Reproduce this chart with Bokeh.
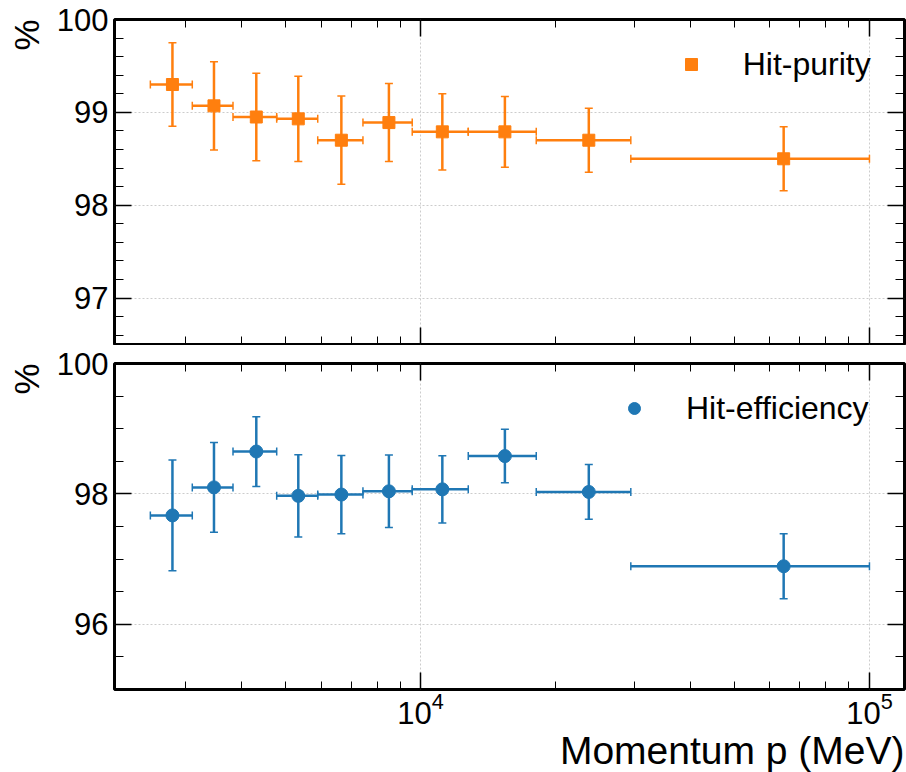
import numpy as np
from bokeh.plotting import figure
from bokeh.models import (ColumnDataSource, Range1d, FixedTicker, LogAxis, LinearAxis,
                          Whisker, TeeHead, Legend, LegendItem, Title, CustomJSTickFormatter)
from bokeh.layouts import column
from bokeh.embed import file_html
from bokeh.resources import INLINE

# ---------------- data ----------------
bin_lo = [2500, 3100, 3820, 4780, 5900, 7440, 9580, 12770, 18100, 29400]
bin_hi = [3100, 3820, 4780, 5900, 7440, 9580, 12770, 18100, 29400, 100000]
p_center = [2800, 3465, 4305, 5340, 6660, 8500, 11180, 15410, 23700, 64400]

purity = [99.30, 99.07, 98.95, 98.93, 98.70, 98.89, 98.79, 98.79, 98.70, 98.50]
purity_err = [0.45, 0.475, 0.47, 0.46, 0.475, 0.42, 0.41, 0.38, 0.345, 0.345]

efficiency = [97.67, 98.10, 98.65, 97.97, 97.99, 98.04, 98.07, 98.58, 98.03, 96.89]
efficiency_err = [0.85, 0.69, 0.535, 0.63, 0.60, 0.555, 0.515, 0.41, 0.42, 0.50]

x_major = [1e4, 1e5]
x_minor = [3000, 4000, 5000, 6000, 7000, 8000, 9000,
           20000, 30000, 40000, 50000, 60000, 70000, 80000, 90000]
top_y_major = [97, 98, 99, 100]
top_y_minor = [96.6, 96.8, 97.0, 97.2, 97.4, 97.6, 97.8, 98.0, 98.2, 98.4, 98.6,
               98.8, 99.0, 99.2, 99.4, 99.6, 99.8]
bot_y_major = [96, 98, 100]
bot_y_minor = [95.5, 96.0, 96.5, 97.0, 97.5, 98.0, 98.5, 99.0, 99.5]

FONT = "Liberation Sans"
ORANGE = "#ff7f0e"
BLUE = "#1f77b4"

x_range = Range1d(2080, 119700)


def style_axis(ax, show_labels, minor_len=9, standoff=6):
    ax.axis_line_color = None
    ax.major_tick_in = 17
    ax.major_tick_out = 0
    ax.minor_tick_in = minor_len
    ax.minor_tick_out = 0
    ax.major_tick_line_color = "black"
    ax.major_tick_line_width = 1.5
    ax.minor_tick_line_color = "black"
    ax.minor_tick_line_width = 1
    if show_labels:
        ax.major_label_text_font = FONT
        ax.major_label_text_font_size = "31px"
        ax.major_label_text_color = "black"
        ax.major_label_standoff = standoff
    else:
        ax.formatter = CustomJSTickFormatter(code="return ''")
        ax.major_label_text_font_size = "1px"
        ax.major_label_standoff = 0


def make_panel(y_lo, y_hi, y_major, y_minor, values, errs, color, marker, msize,
               name, height, frame_h, top_border, bottom_border, show_x_labels, leg_x):
    p = figure(width=906, height=height, x_axis_type="log", x_range=x_range,
               y_range=Range1d(y_lo, y_hi), output_backend="svg",
               toolbar_location=None, min_border_left=114, min_border_right=2,
               min_border_top=top_border, min_border_bottom=bottom_border)
    p.outline_line_color = "black"
    p.outline_line_width = 3
    p.background_fill_color = "white"
    p.border_fill_color = "white"

    xt = FixedTicker(ticks=x_major, minor_ticks=x_minor)
    yt = FixedTicker(ticks=y_major, minor_ticks=y_minor)

    p.xaxis[0].ticker = xt
    p.yaxis[0].ticker = yt
    p.xgrid[0].ticker = xt
    p.ygrid[0].ticker = yt
    for g in (p.xgrid[0], p.ygrid[0]):
        g.grid_line_color = "#cccccc"
        g.grid_line_dash = "2 2"
        g.grid_line_width = 1

    style_axis(p.xaxis[0], show_x_labels, minor_len=8, standoff=2)
    style_axis(p.yaxis[0], True)

    top_ax = LogAxis(ticker=xt)
    style_axis(top_ax, False, minor_len=8)
    p.add_layout(top_ax, "above")
    right_ax = LinearAxis(ticker=yt)
    style_axis(right_ax, False)
    p.add_layout(right_ax, "right")

    src = ColumnDataSource(dict(x=p_center, lo_x=bin_lo, hi_x=bin_hi, y=values,
                                lo_y=[v - e for v, e in zip(values, errs)],
                                hi_y=[v + e for v, e in zip(values, errs)]))

    wx = Whisker(source=src, base="y", lower="lo_x", upper="hi_x", dimension="width",
                 line_color=color, line_width=2.5,
                 upper_head=TeeHead(size=8, line_color=color, line_width=1.5),
                 lower_head=TeeHead(size=8, line_color=color, line_width=1.5))
    wy = Whisker(source=src, base="x", lower="lo_y", upper="hi_y", dimension="height",
                 line_color=color, line_width=2.5,
                 upper_head=TeeHead(size=8, line_color=color, line_width=1.5),
                 lower_head=TeeHead(size=8, line_color=color, line_width=1.5))
    p.add_layout(wx)
    p.add_layout(wy)
    r = p.scatter("x", "y", source=src, marker=marker, size=msize,
                  fill_color=color, line_color=color)

    legend = Legend(items=[LegendItem(label=name, renderers=[r])],
                    location=(leg_x, frame_h - 45 - 18.5),
                    glyph_width=30, glyph_height=30, label_standoff=37,
                    padding=0, margin=0, border_line_color=None,
                    background_fill_alpha=0, label_text_font=FONT,
                    label_text_font_size="32px", label_text_color="black")
    p.add_layout(legend)

    p.add_layout(Title(text="%", align="right", vertical_align="top", text_font=FONT,
                       text_font_size="35px", text_font_style="normal",
                       text_color="black", standoff=11),
                 "left")
    return p


p1 = make_panel(96.5, 100, top_y_major, top_y_minor, purity, purity_err, ORANGE,
                "square", 12, "Hit-purity", 345, 325, 19, 1, False, 561.7)
p2 = make_panel(95, 100, bot_y_major, bot_y_minor, efficiency, efficiency_err, BLUE,
                "circle", 13, "Hit-efficiency", 427, 326, 18, 83, True, 505.0)

p2.add_layout(Title(text="Momentum p (MeV)", align="right", text_font=FONT,
                    text_font_size="39px", text_font_style="normal",
                    text_color="black", standoff=0), "below")

layout = column(p1, p2, spacing=0)
open("out.html", "w").write(file_html(layout, INLINE))
